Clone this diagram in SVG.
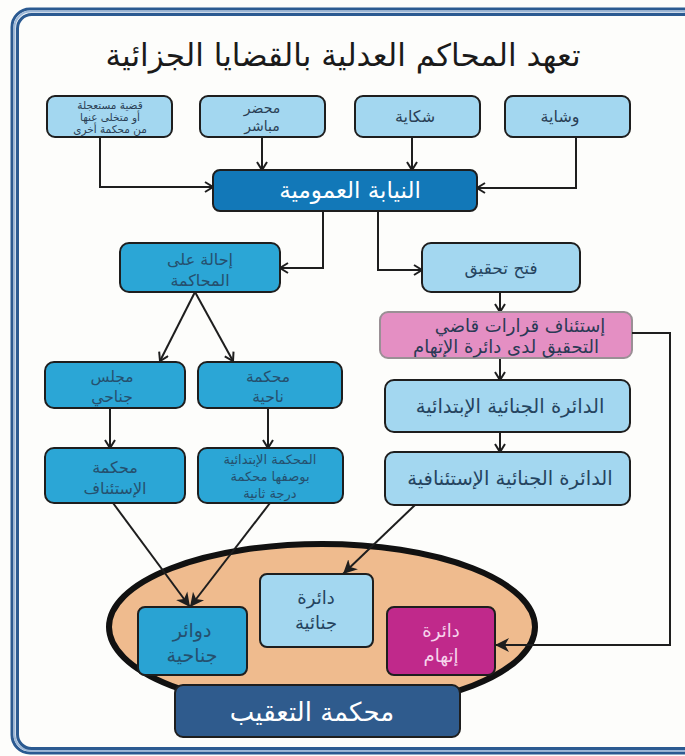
<svg xmlns="http://www.w3.org/2000/svg" width="685" height="756" viewBox="0 0 685 756">
<defs>
<style>
.t{font-family:"DejaVu Sans",sans-serif;text-anchor:middle}
.bx{stroke:#1e1e1e;stroke-width:2}
.ln{fill:none;stroke:#1e1e1e;stroke-width:2}
.lb{fill:#a3d7f0}
.cy{fill:#2ba6d6}
.wh{fill:#ffffff}
</style>
<marker id="oa" markerUnits="userSpaceOnUse" markerWidth="12" markerHeight="12" refX="9" refY="6" orient="auto">
<path d="M1,1 L9,6 L1,11" fill="none" stroke="#1e1e1e" stroke-width="2"/>
</marker>
<marker id="fa" markerUnits="userSpaceOnUse" markerWidth="16" markerHeight="16" refX="14" refY="8" orient="auto">
<path d="M0,1 L14,8 L0,15 L4,8 z" fill="#1e1e1e"/>
</marker>
</defs>
<rect width="685" height="756" fill="#fdfdfb"/>
<g id="frame" fill="none">
<rect x="12" y="9" width="690" height="744" rx="18" stroke="#2b5a91" stroke-width="3"/>
<rect x="14.5" y="11.5" width="684" height="739" rx="16" stroke="#9db8d8" stroke-width="2"/>
<rect x="17.5" y="14.5" width="680" height="734" rx="14" stroke="#2b5a91" stroke-width="3"/>
</g>
<g id="title"><text class="t" x="343" y="66" font-size="31" fill="#1a1a1a">تعهد المحاكم العدلية بالقضايا الجزائية</text></g>

<g id="connectors">
<polyline class="ln" points="100,137 100,187 213,187" marker-end="url(#oa)"/>
<polyline class="ln" points="262,137 262,170" marker-end="url(#oa)"/>
<polyline class="ln" points="412,137 412,170" marker-end="url(#oa)"/>
<polyline class="ln" points="576,137 576,188 477,188" marker-end="url(#oa)"/>
<polyline class="ln" points="323,211 323,268 280,268" marker-end="url(#oa)"/>
<polyline class="ln" points="378,211 378,270 422,270" marker-end="url(#oa)"/>
<polyline class="ln" points="195,292 160,361" marker-end="url(#oa)"/>
<polyline class="ln" points="195,292 233,361" marker-end="url(#oa)"/>
<polyline class="ln" points="110,408 110,448" marker-end="url(#oa)"/>
<polyline class="ln" points="268,408 268,448" marker-end="url(#oa)"/>
<polyline class="ln" points="500,292 500,312" marker-end="url(#oa)"/>
<polyline class="ln" points="500,358 500,380" marker-end="url(#oa)"/>
<polyline class="ln" points="500,432 500,452" marker-end="url(#oa)"/>
</g>

<g id="n1"><rect class="bx lb" x="47" y="96" width="125" height="41" rx="8"/>
<text class="t" x="110" y="109" font-size="10.5" fill="#2a3f55">قضية مستعجلة</text>
<text class="t" x="110" y="121" font-size="10.5" fill="#2a3f55">أو متخلى عنها</text>
<text class="t" x="110" y="133" font-size="10.5" fill="#2a3f55">من محكمة أخرى</text></g>
<g id="n2"><rect class="bx lb" x="200" y="96" width="125" height="41" rx="8"/>
<text class="t" x="262" y="113" font-size="14" fill="#2a3f55">محضر</text>
<text class="t" x="262" y="131" font-size="14" fill="#2a3f55">مباشر</text></g>
<g id="n3"><rect class="bx lb" x="355" y="96" width="125" height="41" rx="8"/>
<text class="t" x="415" y="122" font-size="16" fill="#2a3f55">شكاية</text></g>
<g id="n4"><rect class="bx lb" x="505" y="96" width="125" height="41" rx="8"/>
<text class="t" x="560" y="122" font-size="16" fill="#2a3f55">وشاية</text></g>

<g id="niyaba"><rect class="bx" x="213" y="170" width="264" height="41" rx="7" fill="#1278b8"/>
<text class="t wh" x="350" y="198" font-size="23">النيابة العمومية</text></g>

<g id="ihala"><rect class="bx cy" x="120" y="243" width="160" height="49" rx="9"/>
<text class="t" x="200" y="265" font-size="16" fill="#25506e">إحالة على</text>
<text class="t" x="200" y="286" font-size="16" fill="#25506e">المحاكمة</text></g>

<g id="majlis"><rect class="bx cy" x="45" y="362" width="140" height="46" rx="9"/>
<text class="t" x="112" y="382" font-size="15.5" fill="#25506e">مجلس</text>
<text class="t" x="112" y="402" font-size="15.5" fill="#25506e">جناحي</text></g>
<g id="nahia"><rect class="bx cy" x="198" y="362" width="144" height="46" rx="9"/>
<text class="t" x="268" y="382" font-size="15.5" fill="#25506e">محكمة</text>
<text class="t" x="268" y="402" font-size="15.5" fill="#25506e">ناحية</text></g>

<g id="istinaf"><rect class="bx cy" x="45" y="448" width="140" height="55" rx="9"/>
<text class="t" x="115" y="473" font-size="16" fill="#25506e">محكمة</text>
<text class="t" x="115" y="494" font-size="16" fill="#25506e">الإستئناف</text></g>
<g id="ibtidaia"><rect class="bx cy" x="198" y="448" width="145" height="55" rx="9"/>
<text class="t" x="270" y="464" font-size="13" fill="#25506e">المحكمة الإبتدائية</text>
<text class="t" x="270" y="481" font-size="13" fill="#25506e">بوصفها محكمة</text>
<text class="t" x="270" y="498" font-size="13" fill="#25506e">درجة ثانية</text></g>

<g id="tahqiq"><rect class="bx lb" x="422" y="243" width="158" height="49" rx="9"/>
<text class="t" x="501" y="274" font-size="17" fill="#25445f">فتح تحقيق</text></g>
<g id="pink"><rect x="380" y="312" width="252" height="46" rx="8" fill="#e48fc3" stroke="#9a8f95" stroke-width="2"/>
<text class="t" x="520" y="332" font-size="18" fill="#2a3a55">إستئناف قرارات قاضي</text>
<text class="t" x="506" y="353" font-size="18" fill="#2a3a55">التحقيق لدى دائرة الإتهام</text></g>
<g id="jinaiaIbt"><rect class="bx lb" x="385" y="380" width="245" height="52" rx="9"/>
<text class="t" x="510" y="413" font-size="19.5" fill="#25445f">الدائرة الجنائية الإبتدائية</text></g>
<g id="jinaiaIst"><rect class="bx lb" x="385" y="452" width="245" height="53" rx="9"/>
<text class="t" x="510" y="485" font-size="19.5" fill="#25445f">الدائرة الجنائية الإستئنافية</text></g>

<g id="ellipse"><ellipse cx="322" cy="627" rx="213" ry="83" fill="#efbb8e" stroke="#111" stroke-width="6"/></g>

<g id="dawair"><rect class="bx" x="138" y="607" width="109" height="68" rx="7" fill="#29a3d3"/>
<text class="t" x="192" y="637" font-size="19" fill="#25506e">دوائر</text>
<text class="t" x="192" y="662" font-size="19" fill="#25506e">جناحية</text></g>
<g id="jinaia"><rect class="bx lb" x="260" y="574" width="113" height="73" rx="7"/>
<text class="t" x="316" y="604" font-size="18" fill="#25445f">دائرة</text>
<text class="t" x="316" y="629" font-size="18" fill="#25445f">جنائية</text></g>
<g id="ittiham"><rect class="bx" x="387" y="607" width="108" height="68" rx="7" fill="#c0298b"/>
<text class="t" x="441" y="637" font-size="18" fill="#f6d4ec">دائرة</text>
<text class="t" x="441" y="662" font-size="18" fill="#f6d4ec">إتهام</text></g>
<g id="taaqib"><rect class="bx" x="175" y="685" width="285" height="52" rx="8" fill="#2f5b8d"/>
<text class="t wh" x="312" y="721" font-size="26">محكمة التعقيب</text></g>

<g id="connectors2">
<polyline class="ln" points="113,503 190,607" marker-end="url(#fa)"/>
<polyline class="ln" points="270,503 190,607" marker-end="url(#fa)"/>
<polyline class="ln" points="415,505 343,574" marker-end="url(#fa)"/>
<polyline class="ln" points="632,333 670,333 670,645 495,645" marker-end="url(#fa)"/>
</g>
</svg>
